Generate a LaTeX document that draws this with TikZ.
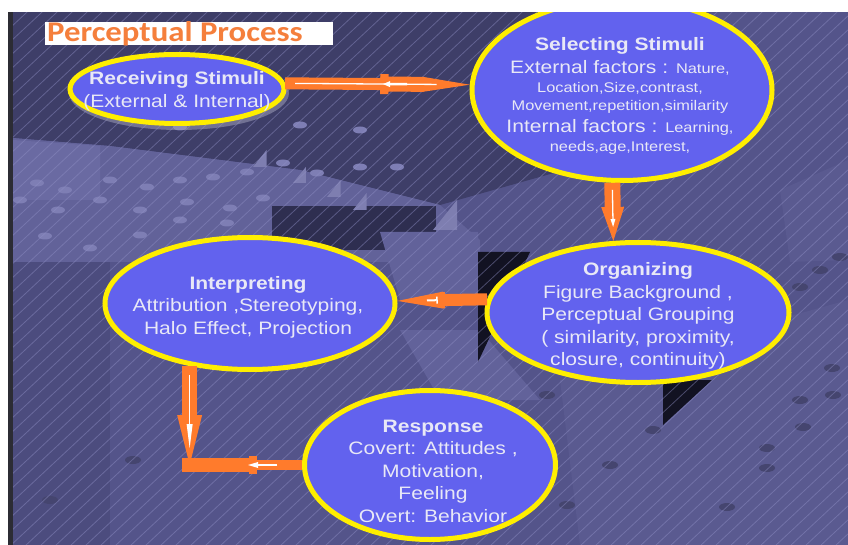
\documentclass[tikz,border=0pt]{standalone}
\usepackage{fontspec}
\newfontfamily\stagefont{Liberation Sans}[FakeStretch=1.17]
\newfontfamily\headfont{Carlito}[FakeStretch=1.15]
\usetikzlibrary{shapes.geometric,arrows.meta,calc}

\definecolor{bgbase}{HTML}{54548A}
\definecolor{bgdeep}{HTML}{3E3E68}
\definecolor{bgfloor}{HTML}{626299}
\definecolor{bgpale}{HTML}{6A6AA2}
\definecolor{bgface}{HTML}{62629A}
\definecolor{bgblock}{HTML}{2E2E50}
\definecolor{bgside}{HTML}{4C4C7E}
\definecolor{bgplate}{HTML}{5A5A90}
\definecolor{bgblack}{HTML}{121222}
\definecolor{bgpyr}{HTML}{7E7EB0}
\definecolor{dotlight}{HTML}{7E7EB4}
\definecolor{dotdark}{HTML}{45456F}
\definecolor{stripecol}{HTML}{9090C6}
\definecolor{ellfill}{HTML}{6262EE}
\definecolor{ellline}{HTML}{FFEE00}
\definecolor{flowcol}{HTML}{FF7B2C}
\definecolor{txtcol}{HTML}{E8E8F6}
\definecolor{titlecol}{HTML}{F57F3C}
\definecolor{edgecol}{HTML}{2C2C34}
\definecolor{shadowcol}{HTML}{9C9CB8}

\newcommand\smallface{\fontsize{14}{20}\selectfont}

\begin{document}
\begin{tikzpicture}[x=1pt,y=-1pt,
  stage/.style={ellipse, draw=ellline, line width=5pt, fill=ellfill, inner sep=0pt},
  stagetext/.style={text=txtcol, align=center, inner sep=0pt,
    font=\stagefont\fontsize{18}{22.5}\selectfont},
  flow/.style={draw=flowcol, line width=12pt},
  glint/.style={draw=white, line width=1.3pt},
  stripe/.style={draw=stripecol, line width=0.8pt, opacity=0.45},
  lightdot/.style={fill=dotlight},
  darkdot/.style={fill=dotdark},
  titlebox/.style={fill=white, minimum width=288pt, minimum height=23pt, inner sep=0pt},
  titletext/.style={text=titlecol, inner sep=0pt, font=\headfont\bfseries\fontsize{28.5}{30}\selectfont}]
\useasboundingbox (0,0) rectangle (848,545);

% ---------- backdrop ----------
\begin{scope}
  \clip (13,12) rectangle (848,545);
  \fill[bgbase] (13,12) rectangle (848,545);
  % dark upper tier
  \fill[bgdeep] (13,12) -- (600,12) -- (600,160) -- (440,205) -- (300,170) -- (110,146) -- (13,138) -- cycle;
  % lit floor below it
  \fill[bgfloor] (13,138) -- (110,146) -- (300,170) -- (440,205) -- (480,240) -- (480,262) -- (13,262) -- cycle;
  \fill[bgpale] (13,140) -- (100,146) -- (100,200) -- (13,200) -- cycle;
  % shadowed block
  \fill[bgblock] (272,206) -- (436,206) -- (436,250) -- (272,250) -- cycle;
  % left column
  \fill[bgside] (13,262) -- (110,262) -- (110,545) -- (13,545) -- cycle;
  % faces beside the middle
  \fill[bgface] (380,232) -- (478,232) -- (478,300) -- (400,300) -- cycle;
  \fill[bgface] (400,330) -- (480,330) -- (540,400) -- (440,400) -- cycle;
  % plates at lower right
  \fill[bgplate] (560,380) -- (848,300) -- (848,545) -- (580,545) -- cycle;
  \fill[bgplate] (780,190) -- (848,160) -- (848,260) -- (790,262) -- cycle;
  % black faces
  \fill[bgblack] (478,252) -- (530,252) -- (478,362) -- cycle;
  \fill[bgblack] (663,380) -- (712,380) -- (663,425) -- cycle;
  % small pyramids
  \foreach \px/\py/\ph in {253/150/17, 293/167/16, 327/180/17, 353/193/17, 433/200/30}
    \fill[bgpyr] (\px,\py+\ph) -- (\px+\ph*0.8,\py) -- (\px+\ph*0.8,\py+\ph) -- cycle;
  % dots on the lit floor
  \foreach \dx/\dy in {37/183, 65/190, 110/180, 147/187, 180/180, 213/177, 247/172,
      283/163, 317/173, 360/167, 397/167, 20/200, 58/210, 100/200, 140/210, 187/202,
      230/208, 263/198, 45/236, 90/248, 140/235, 180/220, 227/223, 180/127, 300/125, 360/130}
    \fill[lightdot] (\dx,\dy) ellipse (7 and 3.5);
  % dots on the lower plates
  \foreach \dx/\dy in {547/395, 653/430, 610/465, 567/505, 727/507, 767/468, 803/427,
      833/395, 840/257, 820/270, 800/287, 832/368, 800/400, 767/448, 50/500, 133/460}
    \fill[darkdot] (\dx,\dy) ellipse (8 and 4);
  % diagonal stripes
  \foreach \s in {-590,-575,...,860}
    \draw[stripe] (\s,560) -- ++(600,-560);
\end{scope}
\fill[edgecol] (8,12) rectangle (13,545);

% ---------- stages ----------
\fill[shadowcol, opacity=0.55] (179,93) ellipse (110 and 37);
\node[stage, minimum width=214pt, minimum height=69pt]  (recv)   at (177,89)  {};
\node[stage, minimum width=300pt, minimum height=181pt] (sel)    at (622,90)  {};
\node[stage, minimum width=302pt, minimum height=140pt] (org)    at (638,312.5) {};
\node[stage, minimum width=290pt, minimum height=132pt] (interp) at (250,303.5) {};
\node[stage, minimum width=251pt, minimum height=149pt] (resp)   at (430,465) {};

\node[stagetext] (recvT) at (177,91.5)
  {{\bfseries Receiving Stimuli}\\(External \& Internal)};
\node[stagetext, font=\stagefont\fontsize{18}{20}\selectfont] (selT) at (620,96)
  {{\bfseries Selecting Stimuli}\\[3pt]
   External factors : {\smallface Nature,}\\[-1pt]
   {\smallface Location,Size,contrast,}\\[-2pt]
   {\smallface Movement,repetition,similarity}\\[2pt]
   Internal factors : {\smallface Learning,}\\[-1pt]
   {\smallface needs,age,Interest,}};
\node[stagetext] (orgT) at (638,316)
  {{\bfseries Organizing}\\Figure Background ,\\Perceptual Grouping\\( similarity, proximity,\\closure, continuity)};
\node[stagetext] (interpT) at (248,307)
  {{\bfseries Interpreting}\\Attribution ,Stereotyping,\\Halo Effect, Projection};
\node[stagetext] (respT) at (433,471)
  {{\bfseries Response}\\Covert: Attitudes ,\\Motivation,\\Feeling\\Overt: Behavior};

% ---------- connectors ----------
% receiving -> selecting
\draw[flow, -{Triangle[length=47pt,width=15pt,line width=0pt]}] (recv.3) -- (sel.178);
\draw[flow, line width=15pt] ($(recv.3)!0.515!(sel.178)$) -- ($(recv.3)!0.75!(sel.178)$);
\draw[flow, line width=20pt] ($(recv.3)!0.515!(sel.178)$) -- ($(recv.3)!0.56!(sel.178)$);
% selecting -> organizing
\draw[flow, line width=16pt, -{Triangle[length=34pt,width=23pt,line width=0pt]}] (sel.264) -- (org.109);
% organizing -> interpreting
\draw[flow, -{Triangle[length=46pt,width=17pt,line width=0pt]}] (org.175) -- (interp.1);
\draw[flow, line width=16pt] ($(org.175)!0.47!(interp.1)$) -- ($(org.175)!0.51!(interp.1)$);
% interpreting / response meeting at the corner
\coordinate (bend) at (interp.226 |- resp.west);
\draw[flow, line width=10pt] (resp.west) -- ($(resp.west)!0.4!(bend)$);
\draw[flow, line width=14pt] ($(resp.west)!0.4!(bend)$) -- ([xshift=-7.5pt]bend);
\draw[flow, line width=18pt] ($(resp.west)!0.4!(bend)$) -- ($(resp.west)!0.47!(bend)$);
\draw[flow, line width=15pt, -{Triangle[length=50pt,width=25pt,line width=0pt]}] (interp.226) -- (bend);

% white highlights inside the connectors
\draw[glint] ($(recv.3)!0.054!(sel.178)$) -- ($(recv.3)!0.82!(sel.178)$);
\draw[glint, line width=2.5pt, {Triangle[length=7pt,width=6pt,line width=0pt]}-] ($(recv.3)!0.53!(sel.178)$) -- ($(recv.3)!0.66!(sel.178)$);
\draw[glint, -{Triangle[length=8pt,width=5pt,line width=0pt]}] ($(sel.264)!0.12!(org.109)$) -- ($(sel.264)!0.76!(org.109)$);
\draw[glint, line width=2pt, -{Bar[width=7pt,line width=1.5pt]}] ($(org.175)!0.67!(interp.1)$) -- ($(org.175)!0.55!(interp.1)$);
\draw[glint, -{Triangle[length=24pt,width=6pt,line width=0pt]}] ($(interp.226)!0.09!(bend)$) -- ($(interp.226)!0.83!(bend)$);
\draw[glint, line width=1.5pt, -{Triangle[length=10pt,width=6pt,line width=0pt]}] ($(resp.west)!0.22!(bend)$) -- ($(resp.west)!0.48!(bend)$);

% ---------- frame and heading ----------
\fill[white] (0,0) rectangle (848,12);
\fill[white] (0,0) rectangle (8,545);
\node[titlebox] (titlebg) at (189,33.5) {};
\node[titletext, anchor=base west] (title) at (47,42) {Perceptual Process};
\end{tikzpicture}
\end{document}
